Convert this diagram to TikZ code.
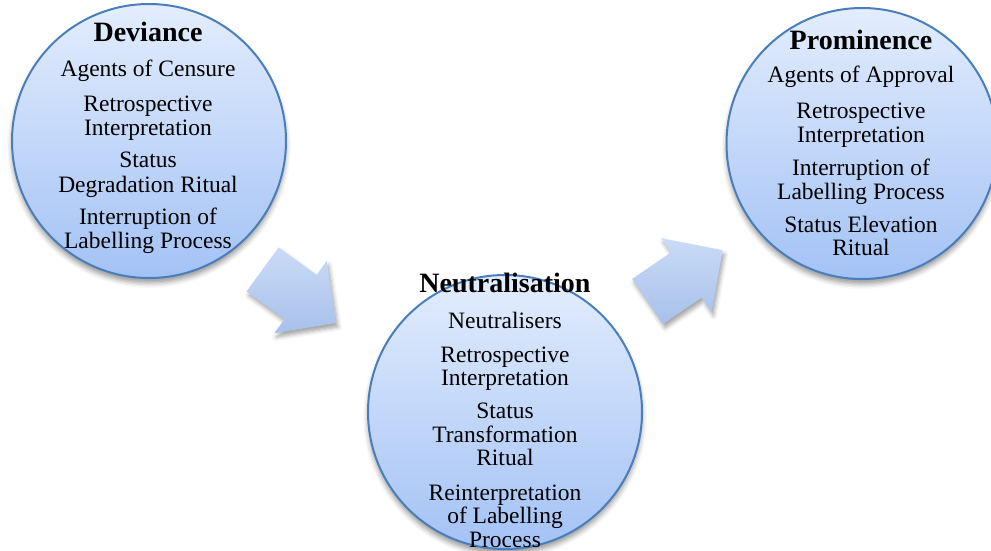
\documentclass[tikz,border=0pt]{standalone}
\usepackage{fontspec}
\setmainfont{Liberation Serif}
\usetikzlibrary{shadows.blur}

\definecolor{circline}{HTML}{4A7EBB}
\definecolor{ctop}{HTML}{E3EDFD}
\definecolor{cbot}{HTML}{A3C2F5}
\definecolor{atop}{HTML}{C9DBF7}
\definecolor{abot}{HTML}{A8C0EA}

\begin{document}
\begin{tikzpicture}[x=1pt,y=-1pt,
  bubble/.style={circle, draw=circline, line width=2pt,
    top color=ctop, bottom color=cbot, minimum size=274pt, inner sep=0pt,
    blur shadow={shadow xshift=0pt, shadow yshift=-5pt,
      shadow blur radius=5pt, shadow opacity=40}},
  blockarrow/.style={top color=atop, bottom color=abot, draw=none,
    blur shadow={shadow xshift=2pt, shadow yshift=-4pt,
      shadow blur radius=4pt, shadow opacity=35}},
  bodyline/.style={anchor=base, inner sep=0pt,
    font=\fontsize{23.5}{24}\selectfont},
  titleline/.style={anchor=base, inner sep=0pt,
    font=\fontsize{28}{30}\selectfont\bfseries}]

\useasboundingbox (0,0) rectangle (991,551);
\clip (0,0) rectangle (991,551);

% circles
\node[bubble] (dev) at (149,141) {};
\node[bubble] (neu) at (505,412) {};
\node[bubble, minimum size=271pt] (pro) at (862,143.5) {};

% block arrows between the stages
\path[blockarrow]
  (278.6,247.4) coordinate (la1) -- (316.6,275.0) -- (326.7,261.0)
  -- (336.1,323.0) coordinate (latip) -- (274.3,333.2) -- (284.5,319.2)
  -- (246.5,291.6) -- cycle;
\path[blockarrow]
  (632.1,279.0) coordinate (ra1) -- (670.9,252.4) -- (661.2,238.2)
  -- (722.7,250.2) coordinate (ratip) -- (711.5,311.9) -- (701.7,297.6)
  -- (662.9,324.1) -- cycle;

% Deviance
\node[titleline] (devT) at (148,42) {Deviance};
\foreach \t/\y [count=\i] in {Agents of Censure/77, Retrospective/111,
    Interpretation/135, Status/167, Degradation Ritual/192,
    Interruption of/224, Labelling Process/248}
  \node[bodyline] (dev\i) at (148,\y) {\t};

% Neutralisation
\node[titleline] (neuT) at (505,292) {Neutralisation};
\foreach \t/\y [count=\i] in {Neutralisers/328, Retrospective/362,
    Interpretation/385, Status/418, Transformation/442, Ritual/465,
    Reinterpretation/500, of Labelling/523, Process/547}
  \node[bodyline] (neu\i) at (505,\y) {\t};

% Prominence
\node[titleline] (proT) at (861,50) {Prominence};
\foreach \t/\y [count=\i] in {Agents of Approval/83, Retrospective/118,
    Interpretation/142, Interruption of/175, Labelling Process/199,
    Status Elevation/232, Ritual/255}
  \node[bodyline] (pro\i) at (861,\y) {\t};
\end{tikzpicture}
\end{document}
